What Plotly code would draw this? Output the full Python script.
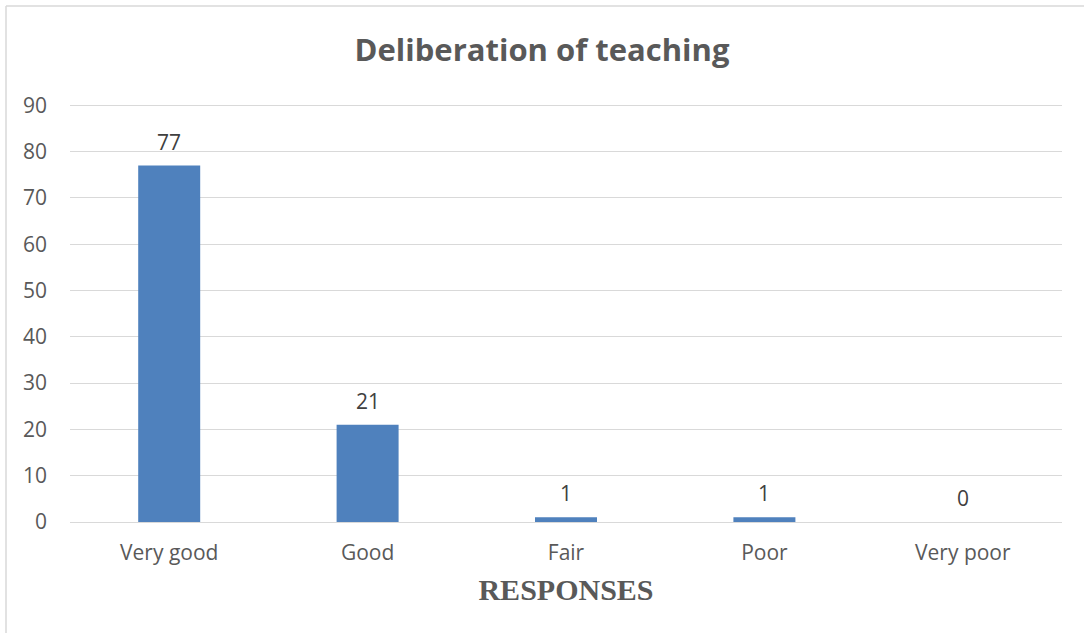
import plotly.graph_objects as go

categories = ["Very good", "Good", "Fair", "Poor", "Very poor"]
responses = [77, 21, 1, 1, 0]
y_ticks = [0, 10, 20, 30, 40, 50, 60, 70, 80, 90]

W, H = 1084, 633
L, R, T, B = 70, 22, 104, 111
pw, ph = W - L - R, H - T - B

fig = go.Figure(
    go.Bar(
        x=categories,
        y=responses,
        marker=dict(color="#4f81bd", line=dict(width=0)),
        hoverinfo="x+y",
    )
)

# value labels above each bar
for c, v in zip(categories, responses):
    fig.add_annotation(
        x=c, y=v, text=str(v), showarrow=False,
        yanchor="bottom", yshift=8,
        font=dict(family="Open Sans", size=21, color="#404040"),
    )

# chart frame: thin grey lines along top and left edges
fx = (6 - L) / pw
fy = 1 + (T - 6) / ph
fig.add_shape(type="line", xref="paper", yref="paper", x0=fx, x1=(W - L) / pw, y0=fy, y1=fy,
              line=dict(color="#d9d9d9", width=1.5))
fig.add_shape(type="line", xref="paper", yref="paper", x0=fx, x1=fx, y0=fy, y1=-(H - T - ph) / ph,
              line=dict(color="#d9d9d9", width=1.5))

fig.update_layout(
    width=W,
    height=H,
    margin=dict(l=L, r=R, t=T, b=B),
    paper_bgcolor="white",
    plot_bgcolor="white",
    bargap=0.6875,
    showlegend=False,
    title=dict(
        text="<b>Deliberation of teaching</b>",
        x=0.5,
        xanchor="center",
        y=1 - 50 / H,
        yanchor="middle",
        font=dict(family="Open Sans", size=31, color="#595959"),
    ),
    xaxis=dict(
        title=dict(
            text="<b>RESPONSES</b>",
            font=dict(family="Liberation Serif", size=30, color="#595959"),
            standoff=13,
        ),
        tickfont=dict(family="Open Sans", size=21, color="#595959"),
        showline=False,
        ticks="",
        ticklabelstandoff=16,
    ),
    yaxis=dict(
        range=[0, 90.3],
        tickvals=y_ticks,
        tickfont=dict(family="Open Sans", size=21, color="#595959"),
        showgrid=True,
        gridcolor="#d9d9d9",
        gridwidth=1,
        zeroline=True,
        zerolinecolor="#d9d9d9",
        zerolinewidth=1,
        ticks="",
        ticklabelstandoff=22,
    ),
)

fig.write_html("out.html")
